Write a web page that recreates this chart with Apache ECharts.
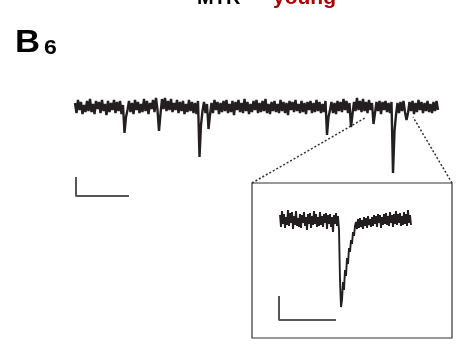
<!DOCTYPE html>
<html>
<head>
<meta charset="utf-8">
<script src="https://cdn.jsdelivr.net/npm/echarts@6/dist/echarts.min.js"></script>
<style>
html, body { margin: 0; padding: 0; background: #fff; }
#chart { width: 457px; height: 350px; }
</style>
</head>
<body>
<div id="chart"></div>
<script>
// main trace, one sample every mainStep ms (pA, baseline 0)
var mainStep = 1.5;
var mainTrace = [
    4, -6, 7, -3, 5, -7, 2, -5, 6, -4,
    8, -5, 3, -7, 6, -2, 5, -6, 7, -4,
    3, -8, 6, -5, 4, -3, 7, -6, 5, -4,
    6, -7, 2, -26, -10, -3, 6, -5, 4, -7,
    7, -3, 5, -6, 3, -5, 8, -4, 6, -7,
    4, -2, 7, -5, 9, -3, -24, -7, 8, -2,
    9, -4, 6, -3, 8, -5, 4, -3, 7, -6,
    5, -4, 6, -7, 3, -5, 7, -4, 5, -6,
    4, -7, 6, -50, -18, -4, 5, -6, 3, -22,
    -8, 4, -6, 7, -3, 5, -7, 4, -5, 6,
    -4, 7, -6, 3, -5, 6, -8, 5, -3, 7,
    -5, 4, -6, 8, -4, 5, -7, 3, -5, 6,
    -3, 7, -6, 4, -5, 6, -4, 8, -6, 3,
    -7, 5, -4, 6, -5, 3, -6, 7, -4, 5,
    -6, 4, -8, 6, -3, 5, -5, 7, -4, 3,
    -6, 6, -5, 4, -7, 5, -3, 6, -6, 4,
    -5, 7, -4, 5, -6, 3, -5, 6, -28, -10,
    -3, 5, -6, 4, -7, 6, -4, 5, -5, 8,
    -3, 6, -6, 4, -20, -7, 5, -4, 9, -3,
    6, -5, 8, -4, 5, -6, 7, -3, 4, -17,
    -6, 5, -4, 6, -7, 5, -3, 6, -5, 4,
    -6, 5, -66, -24, -8, 4, -6, 5, -4, 6,
    -5, -13, -6, 5, -4, 6, -7, 4, -5, 7,
    -3, 5, -6, 4, -4, 6, -5, 3, -6, 5,
    -4, 6, -3
];

// expanded event (inset), one sample per ms
var insetStart = 28;
var insetStep = 1;
var insetTrace = [
    5, -7, 9, -4, 6, -8, 3, -5, 10, -6,
    7, -3, 8, -9, 4, -5, 9, -6, 2, -7,
    6, -8, 5, -3, 8, -6, 3, -10, 6, -4,
    7, -8, 4, -5, 9, -4, 6, -7, 3, -6,
    8, -5, 4, -7, 6, -3, 7, -9, 5, -4,
    6, -7, 3, -12, 5, -4, 7, -6, 4,
    -10, -60, -87, -80, -62, -70, -50, -56, -38, -44,
    -28, -32, -20, -24, -12, -16, -6,
    -2, -9, 1, -8, 2, -7, 0, -9, 3, -6,
    2, -8, 4, -5, 1, -7, 3, -6, 5, -4,
    4, -7, 6, -3, 5, -8, 3, -5, 6, -4,
    7, -5, 4, -6, 8, -3, 5, -7, 6, -4,
    9, -5, 6, -3, 7, -6, 4, -5, 8, -4,
    6, -6, 10, -3, 5, -5
];

// scale bars [ms, pA]
var mainScaleBar = [53, 19];
var insetScaleBar = [57, 24];
// part of main trace shown in the inset [ms]
var zoomWindow = [290, 338];

var traceColor = '#231f20';
var barColor = '#555';

function toXY(arr, start, step) {
    return arr.map(function (v, i) { return [start + i * step, v]; });
}
function scaleBar(x0, y0, size) {
    return [[x0, y0 + size[1]], [x0, y0], [x0 + size[0], y0]];
}

var chart = echarts.init(document.getElementById('chart'));

var option = {
    animation: false,
    backgroundColor: '#fff',
    grid: [
        { left: 75, top: 92, width: 364, height: 110, show: false },
        { left: 252, top: 183, width: 200, height: 155, show: true,
          borderColor: '#333', borderWidth: 1.2, backgroundColor: 'transparent' }
    ],
    xAxis: [
        { type: 'value', gridIndex: 0, min: 0, max: 364, show: false },
        { type: 'value', gridIndex: 1, min: 0, max: 200, show: false }
    ],
    yAxis: [
        { type: 'value', gridIndex: 0, min: -95, max: 15, show: false },
        { type: 'value', gridIndex: 1, min: -118, max: 37, show: false }
    ],
    series: [
        {
            type: 'line', xAxisIndex: 0, yAxisIndex: 0,
            data: toXY(mainTrace, 0, mainStep),
            showSymbol: false,
            lineStyle: { color: traceColor, width: 2.4 }
        },
        {
            type: 'line', xAxisIndex: 0, yAxisIndex: 0,
            data: scaleBar(1, -89, mainScaleBar),
            showSymbol: false,
            lineStyle: { color: barColor, width: 2 }
        },
        {
            type: 'line', xAxisIndex: 1, yAxisIndex: 1,
            data: toXY(insetTrace, insetStart, insetStep),
            showSymbol: false,
            lineStyle: { color: traceColor, width: 1.9 }
        },
        {
            type: 'line', xAxisIndex: 1, yAxisIndex: 1,
            data: scaleBar(27, -100, insetScaleBar),
            showSymbol: false,
            lineStyle: { color: barColor, width: 2 }
        }
    ]
};
chart.setOption(option);

// dotted lines from the inset box to the zoomed part of the trace
var boxL = chart.convertToPixel({ gridIndex: 1 }, [0, 37]);
var boxR = chart.convertToPixel({ gridIndex: 1 }, [200, 37]);
var winL = chart.convertToPixel({ gridIndex: 0 }, [zoomWindow[0], -11]);
var winR = chart.convertToPixel({ gridIndex: 0 }, [zoomWindow[1], -10]);

var dotted = { stroke: '#333', lineWidth: 1.5, lineDash: [2, 2] };

chart.setOption({
    graphic: [
        { type: 'line', shape: { x1: boxL[0], y1: boxL[1], x2: winL[0], y2: winL[1] }, style: dotted },
        { type: 'line', shape: { x1: boxR[0], y1: boxR[1], x2: winR[0], y2: winR[1] }, style: dotted },
        { type: 'text', left: 197, top: -12,
          style: { text: 'MTR', font: 'bold 20px "Liberation Sans", Arial', fill: '#000' } },
        { type: 'text', left: 273, top: -12,
          style: { text: 'young', font: 'bold 21px "Liberation Sans", Arial', fill: '#aa0000' } },
        { type: 'text', left: 15, top: 28, scaleX: 1.12,
          style: { text: 'B', font: 'bold 31px "Liberation Sans", Arial', fill: '#000' } },
        { type: 'text', left: 44, top: 38, scaleX: 1.15,
          style: { text: '6', font: 'bold 20px "Liberation Sans", Arial', fill: '#000' } }
    ]
});
</script>
</body>
</html>
